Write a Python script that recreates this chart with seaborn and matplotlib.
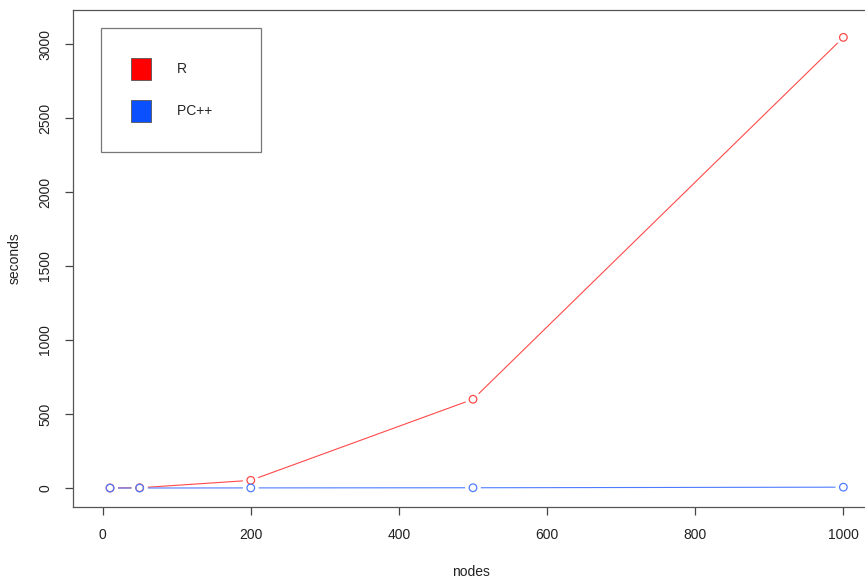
import pandas as pd
import matplotlib
matplotlib.use("Agg")
import matplotlib.pyplot as plt
import seaborn as sns
from matplotlib.patches import Patch

# values
nodes = [10, 50, 200, 500, 1000]
secs_r = [0.5, 2, 52, 600, 3045]
secs_pc = [0.1, 0.3, 1, 2, 6]
series_names = ["R", "PC++"]
line_colors = {"R": "#ff4a4a", "PC++": "#4f7cff"}
legend_fill = {"R": "#ff0000", "PC++": "#0a50ff"}
x_ticks = [0, 200, 400, 600, 800, 1000]
y_ticks = [0, 500, 1000, 1500, 2000, 2500, 3000]

df = pd.concat([
    pd.DataFrame({"nodes": nodes, "seconds": secs_r, "serie": "R"}),
    pd.DataFrame({"nodes": nodes, "seconds": secs_pc, "serie": "PC++"}),
], ignore_index=True)

sns.set_style("white")
plt.rcParams["font.family"] = ["Liberation Sans", "DejaVu Sans"]
plt.rcParams["font.size"] = 10

fig = plt.figure(figsize=(8.65, 5.79), dpi=100)
# plot region like R base graphics (right edge runs a bit past the image)
ax = fig.add_axes([73 / 865, 72 / 579, 800 / 865, 497 / 579])

sns.lineplot(data=df, x="nodes", y="seconds", hue="serie", palette=line_colors,
             linewidth=0.8, legend=False, ax=ax, zorder=2)
# white discs make the gap of R's type="b"
sns.scatterplot(data=df, x="nodes", y="seconds", color="white", s=130,
                edgecolor="none", legend=False, ax=ax, zorder=3)
# open circles, one series at a time
for name in series_names:
    sub = df[df["serie"] == name]
    sns.scatterplot(data=sub, x="nodes", y="seconds", color=line_colors[name], s=30,
                    linewidth=0.9, legend=False, ax=ax, zorder=4)
    coll = ax.collections[-1]
    coll.set_facecolor("none")
    coll.set_edgecolor(line_colors[name])

ax.set_xlim(-40, 1040)
ax.set_ylim(-128, 3230)
ax.set_xticks(x_ticks)
ax.set_yticks(y_ticks)
ax.set_yticklabels([str(v) for v in y_ticks], rotation=90, va="center")
ax.tick_params(axis="both", direction="out", length=6, width=0.9, color="#444444",
               labelcolor="#222222", labelsize=10, pad=9, bottom=True, left=True)
for sp in ax.spines.values():
    sp.set_color("#555555")
    sp.set_linewidth(0.9)

ax.set_xlabel("nodes", fontsize=10, color="#222222")
ax.set_ylabel("seconds", fontsize=10, color="#222222")
ax.xaxis.set_label_coords(0.497, -0.116)
ax.yaxis.set_label_coords(-0.064, 0.5)

handles = [Patch(facecolor=legend_fill[n], edgecolor="#555555", linewidth=0.6) for n in series_names]
labels = ["R", "PC++     "]
leg = ax.legend(handles, labels, loc="upper left", bbox_to_anchor=(0.0345, 0.9638),
                borderaxespad=0, fancybox=False, frameon=True, edgecolor="#555555",
                borderpad=2.16, handlelength=1.44, handleheight=2.06, handletextpad=1.87,
                labelspacing=1.44, fontsize=10)
leg.get_frame().set_linewidth(0.9)

fig.savefig("out.png", dpi=100)
